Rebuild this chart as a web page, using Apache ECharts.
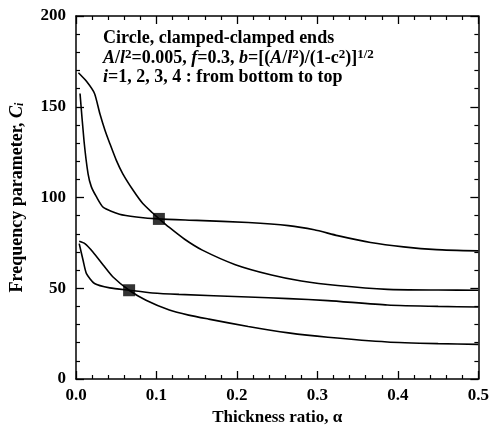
<!DOCTYPE html>
<html>
<head>
<meta charset="utf-8">
<script src="https://cdn.jsdelivr.net/npm/echarts@6/dist/echarts.min.js"></script>
<style>
    html, body { margin: 0; padding: 0; background: #fff; }
    #chart { width: 492px; height: 432px; }
</style>
</head>
<body>
<div id="chart"></div>
<script>
// curves, [thickness ratio, frequency parameter]
var lowerFalling = [[0.004, 75.9], [0.011, 74.6], [0.021, 70], [0.034, 62.7], [0.046, 56.2], [0.066, 48.9],
    [0.087, 43.4], [0.116, 38.0], [0.14, 35.2], [0.165, 33.0], [0.214, 28.9], [0.264, 25.4],
    [0.313, 23.0], [0.387, 20.4], [0.45, 19.5], [0.5, 19.1]];
var lowerFlat = [[0.004, 74.6], [0.009, 65], [0.013, 58.1], [0.023, 52.6], [0.042, 50.2], [0.066, 48.9],
    [0.095, 47.4], [0.128, 46.6], [0.214, 45.2], [0.264, 44.3], [0.313, 43.2], [0.387, 40.8],
    [0.45, 40], [0.5, 39.7]];
var upperFalling = [[0.003, 168.7], [0.013, 164], [0.023, 157.3], [0.0296, 146.3], [0.036, 137.1], [0.042, 129.8],
    [0.05, 120.6], [0.058, 113.2], [0.071, 104], [0.083, 96.7], [0.095, 91.6], [0.103, 88.4],
    [0.116, 83.5], [0.135, 77], [0.157, 71], [0.198, 63], [0.243, 57.3], [0.28, 54], [0.325, 51.5],
    [0.387, 49.4], [0.45, 49], [0.5, 48.9]];
var upperFlat = [[0.005, 157.3], [0.01, 131], [0.015, 113], [0.019, 106], [0.0255, 100.3], [0.034, 94.5],
    [0.054, 90.8], [0.075, 89.3], [0.103, 88.2], [0.15, 87.4], [0.214, 86.2], [0.264, 84.5],
    [0.296, 82.2], [0.325, 79], [0.366, 75.2], [0.407, 72.8], [0.448, 71.3], [0.5, 70.6]];
var crossings = [[0.066, 48.9], [0.103, 88.2]];

var font = 'Liberation Serif';

var chart = echarts.init(document.getElementById('chart'));

function curve(name, data) {
    return {
        name: name,
        type: 'line',
        data: data,
        symbol: 'none',
        smooth: 0.2,
        lineStyle: {color: '#000', width: 1.6},
        z: 2
    };
}

var tickLabel = {color: '#000', fontFamily: font, fontWeight: 'bold', fontSize: 17};
var axisLine = {onZero: false, lineStyle: {color: '#000', width: 1.5}};
var axisTick = {inside: true, length: 8, lineStyle: {color: '#000', width: 1.3}};
var minorTick = {show: true, splitNumber: 5, length: 4, lineStyle: {color: '#000', width: 1.2}};

var options = {
    animation: false,
    grid: {left: 76, right: 10, top: 16, bottom: 53},
    graphic: [{
        type: 'text',
        left: 103,
        top: 29,
        style: {
            text: 'Circle, clamped-clamped ends\n' +
                '{i|A}/{i|l}{sup|2}=0.005, {i|f}=0.3, {i|b}=[({i|A}/{i|l}{sup|2})/(1-c{sup|2})]{sup|1/2}\n' +
                '{i|i}=1, 2, 3, 4 : from bottom to top',
            fill: '#000',
            font: 'bold 18px "Liberation Serif"',
            lineHeight: 19.5,
            rich: {
                i: {fontStyle: 'italic', fontWeight: 'bold', fontSize: 18, fontFamily: font, lineHeight: 19.5},
                sup: {fontSize: 13, fontWeight: 'bold', fontFamily: font, verticalAlign: 'top', lineHeight: 19.5}
            }
        }
    }],
    xAxis: [{
        type: 'value',
        min: 0,
        max: 0.5,
        interval: 0.1,
        name: 'Thickness ratio, α',
        nameLocation: 'middle',
        nameGap: 30,
        nameTextStyle: {color: '#000', fontFamily: font, fontWeight: 'bold', fontSize: 17},
        axisLine: axisLine,
        axisTick: axisTick,
        minorTick: minorTick,
        axisLabel: Object.assign({margin: 8, formatter: function (v) { return v.toFixed(1); }}, tickLabel),
        splitLine: {show: false}
    }, {
        type: 'value',
        position: 'top',
        min: 0,
        max: 0.5,
        interval: 0.1,
        axisLine: axisLine,
        axisTick: axisTick,
        minorTick: minorTick,
        axisLabel: {show: false},
        splitLine: {show: false}
    }],
    yAxis: [{
        type: 'value',
        min: 0,
        max: 200,
        interval: 50,
        name: '{n|Frequency parameter, }{c|C}{s|i}',
        nameLocation: 'middle',
        nameGap: 50,
        nameTextStyle: {
            rich: {
                n: {color: '#000', fontFamily: font, fontWeight: 'bold', fontSize: 18},
                c: {color: '#000', fontFamily: font, fontWeight: 'bold', fontStyle: 'italic', fontSize: 18},
                s: {color: '#000', fontFamily: font, fontWeight: 'bold', fontStyle: 'italic', fontSize: 12, verticalAlign: 'bottom'}
            }
        },
        axisLine: axisLine,
        axisTick: axisTick,
        minorTick: minorTick,
        axisLabel: Object.assign({margin: 10}, tickLabel),
        splitLine: {show: false}
    }, {
        type: 'value',
        position: 'right',
        min: 0,
        max: 200,
        interval: 50,
        axisLine: axisLine,
        axisTick: axisTick,
        minorTick: minorTick,
        axisLabel: {show: false},
        splitLine: {show: false}
    }],
    series: [
        curve('i=1', lowerFalling),
        curve('i=2', lowerFlat),
        curve('i=3', upperFalling),
        curve('i=4', upperFlat),
        {
            name: 'crossing',
            type: 'scatter',
            data: crossings,
            symbol: 'rect',
            symbolSize: 12,
            itemStyle: {color: '#000'},
            z: 3
        }
    ]
};

chart.setOption(options);
</script>
</body>
</html>
